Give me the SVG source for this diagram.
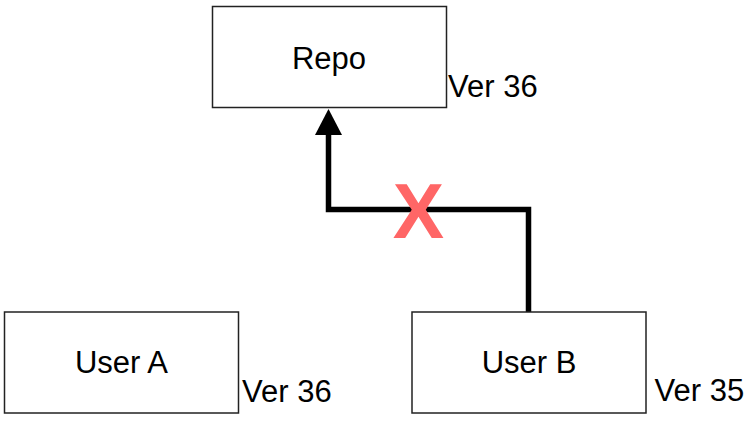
<svg xmlns="http://www.w3.org/2000/svg" width="754" height="421" viewBox="0 0 754 421">
<style>
.box{fill:#fff;stroke:#222;stroke-width:1.5}
.lbl{font-family:"Liberation Sans",Arial,sans-serif;font-size:31px;fill:#000}
.c{text-anchor:middle}
</style>
<rect width="754" height="421" fill="#fff"/>
<g id="connectors">
<polyline points="528.5,312 528.5,209.5 328.5,209.5 328.5,133" fill="none" stroke="#000" stroke-width="5.5"/>
<polygon points="328.5,109 342,135 315,135" fill="#000"/>
<text x="418.5" y="238" class="c" font-family="'Liberation Sans',Arial,sans-serif" font-weight="bold" font-size="77" fill="#FF6666">X</text>
</g>
<g id="repo">
<rect class="box" x="212.5" y="6.5" width="234" height="101"/>
<text class="lbl c" x="329" y="68.5">Repo</text>
<text class="lbl" x="448" y="97">Ver 36</text>
</g>
<g id="userA">
<rect class="box" x="4.5" y="312" width="234" height="101"/>
<text class="lbl c" x="121.5" y="373">User A</text>
<text class="lbl" x="242" y="401.5">Ver 36</text>
</g>
<g id="userB">
<rect class="box" x="412" y="312" width="234" height="101"/>
<text class="lbl c" x="529" y="373">User B</text>
<text class="lbl" x="654.5" y="401">Ver 35</text>
</g>
</svg>
